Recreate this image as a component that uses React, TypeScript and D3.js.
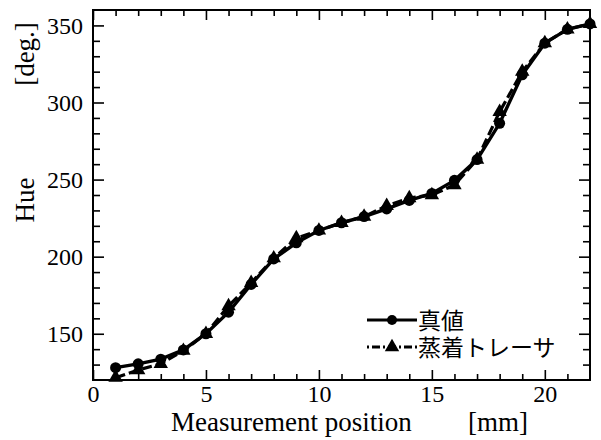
import * as d3 from 'd3';
import React, { useRef, useEffect } from 'react';

const positions = [1, 2, 3, 4, 5, 6, 7, 8, 9, 10, 11, 12, 13, 14, 15, 16, 17, 18, 19, 20, 21, 22];
const trueHue = [128, 130.5, 133.5, 139.5, 150, 164, 182, 198.5, 209, 217, 222, 226, 231, 236.5, 241, 249.5, 263, 286.5, 318, 338.5, 347.5, 351];
const tracerHue = [121.5, 126.5, 130.5, 139, 150, 168, 183, 199, 212, 217, 222, 226, 233, 238, 240, 246.5, 263, 294, 320, 338.5, 347.5, 351];

const xMajor = [0, 5, 10, 15, 20];
const yMajor = [150, 200, 250, 300, 350];
const legendLabels = ['真値', '蒸着トレーサ'];

const font = '"Liberation Serif", "Times New Roman", serif';
const cjkFont = '"Liberation Serif", "Noto Sans CJK JP", serif';

export default function App() {
    const ref = useRef(null);

    useEffect(() => {
        const svg = d3.select(ref.current);
        svg.selectAll('*').remove();

        const left = 93, right = 590, top = 10, bottom = 380;
        const x = d3.scaleLinear().domain([0, 22]).range([left, right]);
        const y = d3.scaleLinear().domain([120, 360]).range([bottom, top]);

        const xMinor = d3.range(1, 22).filter(v => v % 5 !== 0);
        const yMinor = d3.range(130, 360, 10).filter(v => v % 50 !== 0);

        const axisStyle = (g) => {
            g.select('.domain').remove();
            g.selectAll('line').attr('stroke', '#000').attr('stroke-width', 1.6);
            g.selectAll('text')
                .attr('fill', '#000')
                .style('font-family', font)
                .style('font-size', '24px');
        };

        // bottom
        svg.append('g').attr('transform', `translate(0,${bottom})`)
            .call(d3.axisBottom(x).tickValues(xMajor).tickSize(-10).tickPadding(5).tickFormat(d3.format('d')))
            .call(axisStyle);
        svg.append('g').attr('transform', `translate(0,${bottom})`)
            .call(d3.axisBottom(x).tickValues(xMinor).tickSize(-6).tickFormat(() => ''))
            .call(axisStyle);
        // top
        svg.append('g').attr('transform', `translate(0,${top})`)
            .call(d3.axisTop(x).tickValues(xMajor).tickSize(-10).tickFormat(() => ''))
            .call(axisStyle);
        svg.append('g').attr('transform', `translate(0,${top})`)
            .call(d3.axisTop(x).tickValues(xMinor).tickSize(-6).tickFormat(() => ''))
            .call(axisStyle);
        // left
        svg.append('g').attr('transform', `translate(${left},0)`)
            .call(d3.axisLeft(y).tickValues(yMajor).tickSize(-11).tickPadding(10).tickFormat(d3.format('d')))
            .call(axisStyle);
        svg.append('g').attr('transform', `translate(${left},0)`)
            .call(d3.axisLeft(y).tickValues(yMinor).tickSize(-7).tickFormat(() => ''))
            .call(axisStyle);
        // right
        svg.append('g').attr('transform', `translate(${right},0)`)
            .call(d3.axisRight(y).tickValues(yMajor).tickSize(-11).tickFormat(() => ''))
            .call(axisStyle);
        svg.append('g').attr('transform', `translate(${right},0)`)
            .call(d3.axisRight(y).tickValues(yMinor).tickSize(-7).tickFormat(() => ''))
            .call(axisStyle);

        svg.append('rect')
            .attr('x', left).attr('y', top)
            .attr('width', right - left).attr('height', bottom - top)
            .attr('fill', 'none').attr('stroke', '#000').attr('stroke-width', 2);

        const plot = svg.append('g');
        const line = d3.line().x(d => x(d[0])).y(d => y(d[1]));
        const tri = d3.symbol().type(d3.symbolTriangle).size(90);

        const tracerPts = positions.map((p, i) => [p, tracerHue[i]]);
        const truePts = positions.map((p, i) => [p, trueHue[i]]);

        // tracer (dashed, triangles)
        plot.append('path').datum(tracerPts)
            .attr('d', line).attr('fill', 'none')
            .attr('stroke', '#000').attr('stroke-width', 3.2)
            .attr('stroke-dasharray', '10,4');
        plot.selectAll('.tri').data(tracerPts).enter().append('path')
            .attr('transform', d => `translate(${x(d[0])},${y(d[1])})`)
            .attr('d', tri).attr('fill', '#000');

        // true value (solid, circles)
        plot.append('path').datum(truePts)
            .attr('d', line).attr('fill', 'none')
            .attr('stroke', '#000').attr('stroke-width', 3.4);
        plot.selectAll('.dot').data(truePts).enter().append('circle')
            .attr('cx', d => x(d[0])).attr('cy', d => y(d[1]))
            .attr('r', 5.5).attr('fill', '#000');

        // legend
        const lx0 = 367, lx1 = 417, ly = [320, 347];
        const lg = svg.append('g');
        lg.append('line').attr('x1', lx0).attr('x2', lx1).attr('y1', ly[0]).attr('y2', ly[0])
            .attr('stroke', '#000').attr('stroke-width', 3);
        lg.append('circle').attr('cx', (lx0 + lx1) / 2).attr('cy', ly[0]).attr('r', 5).attr('fill', '#000');
        lg.append('line').attr('x1', lx0).attr('x2', lx1).attr('y1', ly[1]).attr('y2', ly[1])
            .attr('stroke', '#000').attr('stroke-width', 3).attr('stroke-dasharray', '2,3,8,3');
        lg.append('path').attr('transform', `translate(${(lx0 + lx1) / 2},${ly[1]})`)
            .attr('d', tri).attr('fill', '#000');
        legendLabels.forEach((t, i) => {
            lg.append('text')
                .attr('x', 418).attr('y', ly[i] + 9)
                .style('font-family', cjkFont).style('font-size', '23px')
                .text(t);
        });

        // axis titles
        svg.append('text')
            .attr('x', 171).attr('y', 431)
            .style('font-family', font).style('font-size', '27px')
            .text('Measurement position');
        svg.append('text')
            .attr('x', 468).attr('y', 431)
            .style('font-family', font).style('font-size', '27px')
            .text('[mm]');
        svg.append('text')
            .attr('transform', 'translate(34,200) rotate(-90)')
            .attr('text-anchor', 'middle')
            .style('font-family', font).style('font-size', '27px')
            .text('Hue');
        svg.append('text')
            .attr('transform', 'translate(34,54) rotate(-90)')
            .attr('text-anchor', 'middle')
            .style('font-family', font).style('font-size', '27px')
            .text('[deg.]');
    }, []);

    return (
        <svg ref={ref} width={601} height={440}
            style={{ position: 'absolute', left: 0, top: 0, background: '#fff' }} />
    );
}
